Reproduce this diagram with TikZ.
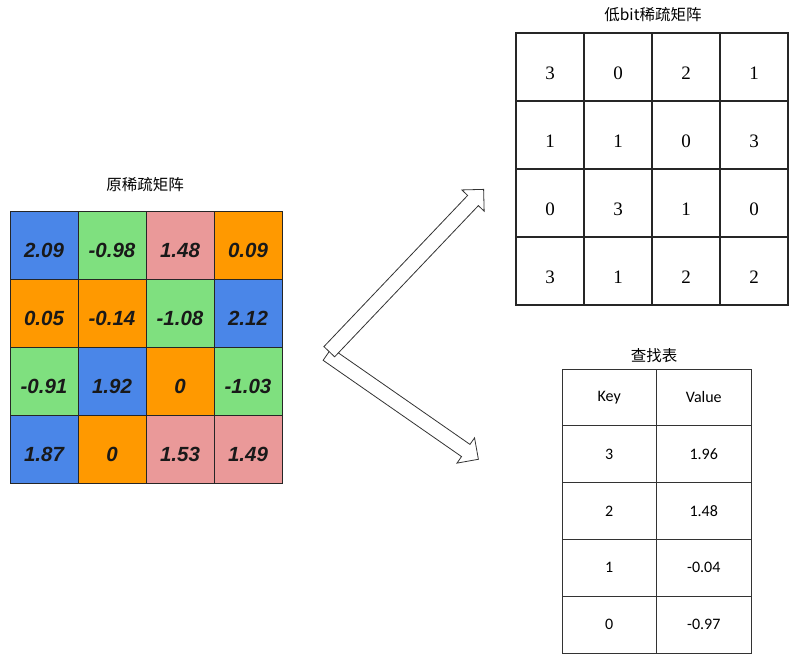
\documentclass[tikz,border=0pt]{standalone}
\usepackage{fontspec}
\setmainfont{Liberation Serif}
\newfontfamily\cjkfont{Noto Sans CJK SC}
\newfontfamily\arialfont{Liberation Sans}
\newfontfamily\calibrifont{Carlito}
\usetikzlibrary{shapes.arrows}

\definecolor{origblue}{HTML}{4A86E8}
\definecolor{origgreen}{HTML}{7FE07F}
\definecolor{origpink}{HTML}{EA9999}
\definecolor{origorange}{HTML}{FF9900}

\begin{document}
\begin{tikzpicture}[x=1pt, y=-1pt,
    title/.style={font=\cjkfont\fontsize{15.5}{18}\selectfont},
    origcell/.style={draw=black!85, line width=1pt, minimum size=68pt, inner sep=0pt,
        text height=24pt, text depth=0pt,
        font=\arialfont\bfseries\itshape\fontsize{20.5}{24}\selectfont, text=black!90},
    lowcell/.style={draw=black!85, line width=1.1pt, minimum size=68pt, inner sep=0pt,
        text height=25.8pt, text depth=0pt, font=\fontsize{19}{22}\selectfont},
    lutcell/.style={draw=black!80, line width=0.9pt, minimum width=94.5pt, minimum height=56.8pt,
        inner sep=0pt, font=\calibrifont\fontsize{16}{19}\selectfont},
    fatarrow/.style={single arrow, draw=black!80, fill=white, line width=0.8pt,
        single arrow head extend=8pt, inner sep=7pt},
]
    \useasboundingbox (0,0) rectangle (799,654);

    % Original sparse matrix
    \node[title] (origtitle) at (145,185) {原稀疏矩阵};
    \foreach \val/\col [count=\i from 0] in {
        2.09/origblue, -0.98/origgreen, 1.48/origpink, 0.09/origorange,
        0.05/origorange, -0.14/origorange, -1.08/origgreen, 2.12/origblue,
        -0.91/origgreen, 1.92/origblue, 0/origorange, -1.03/origgreen,
        1.87/origblue, 0/origorange, 1.53/origpink, 1.49/origpink} {
        \pgfmathtruncatemacro\r{floor(\i/4)}
        \pgfmathtruncatemacro\c{mod(\i,4)}
        \node[origcell, fill=\col] (orig-\r-\c) at ({44+68*\c},{245+68*\r}) {\val};
    }

    % Low-bit sparse matrix
    \node[title] (lowtitle) at (653,15) {低bit稀疏矩阵};
    \foreach \val [count=\i from 0] in {3,0,2,1, 1,1,0,3, 0,3,1,0, 3,1,2,2} {
        \pgfmathtruncatemacro\r{floor(\i/4)}
        \pgfmathtruncatemacro\c{mod(\i,4)}
        \node[lowcell] (low-\r-\c) at ({550+68*\c},{67+68*\r}) {\val};
    }

    % Lookup table
    \node[title] (luttitle) at (654,356) {查找表};
    \foreach \key/\val [count=\r from 0] in {Key/Value, 3/1.96, 2/1.48, 1/-0.04, 0/-0.97} {
        \node[lutcell] (lut-\r-key) at (609.25,{397.4+56.8*\r}) {\key};
        \node[lutcell] (lut-\r-val) at (703.75,{397.4+56.8*\r}) {\val};
    }

    % Split arrows
    \coordinate (uptail) at (329,352);
    \coordinate (uptip) at (483,190);
    \coordinate (downtail) at (327,354);
    \coordinate (downtip) at (478,459);
    \path (downtail) -- (downtip) node[fatarrow, pos=0, sloped, anchor=tail, minimum height=184pt] {};
    \path (uptail) -- (uptip) node[fatarrow, pos=0, sloped, anchor=tail, minimum height=224pt] {};
\end{tikzpicture}
\end{document}
